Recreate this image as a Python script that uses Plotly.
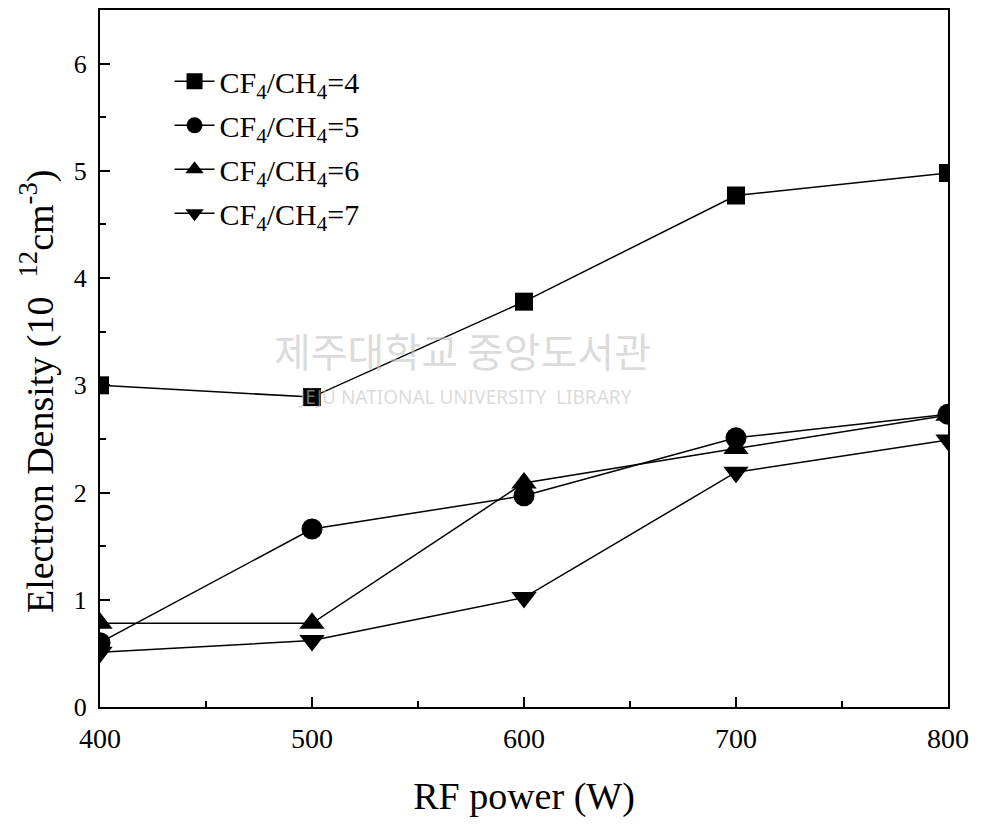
import plotly.graph_objects as go

rf_power = [400, 500, 600, 700, 800]
ratio4 = [3.00, 2.89, 3.78, 4.77, 4.98]
ratio5 = [0.60, 1.66, 1.97, 2.51, 2.73]
ratio6 = [0.78, 0.78, 2.09, 2.41, 2.72]
ratio7 = [0.51, 0.62, 1.02, 2.19, 2.49]

series = [
    ("CF<sub>4</sub>/CH<sub>4</sub>=4", ratio4, "square", 18),
    ("CF<sub>4</sub>/CH<sub>4</sub>=5", ratio5, "circle", 21),
    ("CF<sub>4</sub>/CH<sub>4</sub>=6", ratio6, "triangle-up", 22),
    ("CF<sub>4</sub>/CH<sub>4</sub>=7", ratio7, "triangle-down", 22),
]

FONT = "Liberation Serif, Times New Roman, serif"

fig = go.Figure()
for i, (name, vals, sym, sz) in enumerate(series):
    fig.add_trace(go.Scatter(
        x=rf_power, y=vals, name=name, mode="lines+markers",
        legendgroup=f"g{i}",
        line=dict(color="black", width=1.5),
        marker=dict(symbol=sym, size=sz, color="black"),
    ))

# faint watermark
fig.add_annotation(text="제주대학교 중앙도서관", x=0.427, y=0.512, xref="paper", yref="paper",
                   showarrow=False, font=dict(family="Noto Sans CJK KR", size=40, color="rgba(195,195,195,0.6)"))
fig.add_annotation(text="JEJU NATIONAL UNIVERSITY  LIBRARY", x=0.43, y=0.445, xref="paper", yref="paper",
                   showarrow=False, font=dict(family="Noto Sans", size=19, color="rgba(195,195,195,0.6)"))

# y-axis title as rotated annotation (sits lower than centre in the reference)
fig.add_annotation(text="Electron Density (10 &nbsp;<sup>12</sup>cm<sup>-3</sup>)",
                   x=-0.073, y=0.452, xref="paper", yref="paper", textangle=-90,
                   xanchor="center", yanchor="middle", showarrow=False,
                   font=dict(family=FONT, size=38, color="black"))

fig.update_layout(
    width=967, height=812,
    margin=dict(l=92, r=27, t=2, b=113),
    paper_bgcolor="white", plot_bgcolor="white",
    font=dict(family=FONT, color="black"),
    showlegend=True,
    legend=dict(x=0.082, y=0.935, xanchor="left", yanchor="top",
                font=dict(family=FONT, size=30), bgcolor="rgba(0,0,0,0)",
                itemwidth=40, tracegroupgap=2),
    xaxis=dict(
        range=[400, 800], dtick=100, tick0=400,
        showgrid=False, zeroline=False,
        showline=True, linecolor="black", linewidth=2, mirror=True,
        ticks="inside", ticklen=10, tickwidth=2, tickcolor="black",
        minor=dict(dtick=50, ticks="inside", ticklen=6, tickwidth=2, tickcolor="black"),
        tickfont=dict(family=FONT, size=28),
        ticklabelstandoff=5,
        automargin=False,
        title=dict(text="RF power (W)", font=dict(family=FONT, size=38), standoff=30),
    ),
    yaxis=dict(
        range=[0, 6.5], dtick=1, tick0=0,
        showgrid=False, zeroline=False,
        showline=True, linecolor="black", linewidth=2, mirror=True,
        ticks="inside", ticklen=10, tickwidth=2, tickcolor="black",
        minor=dict(dtick=0.5, ticks="inside", ticklen=6, tickwidth=2, tickcolor="black"),
        tickfont=dict(family=FONT, size=26),
        ticklabelstandoff=6,
        automargin=False,
    ),
)

fig.write_html("out.html")
